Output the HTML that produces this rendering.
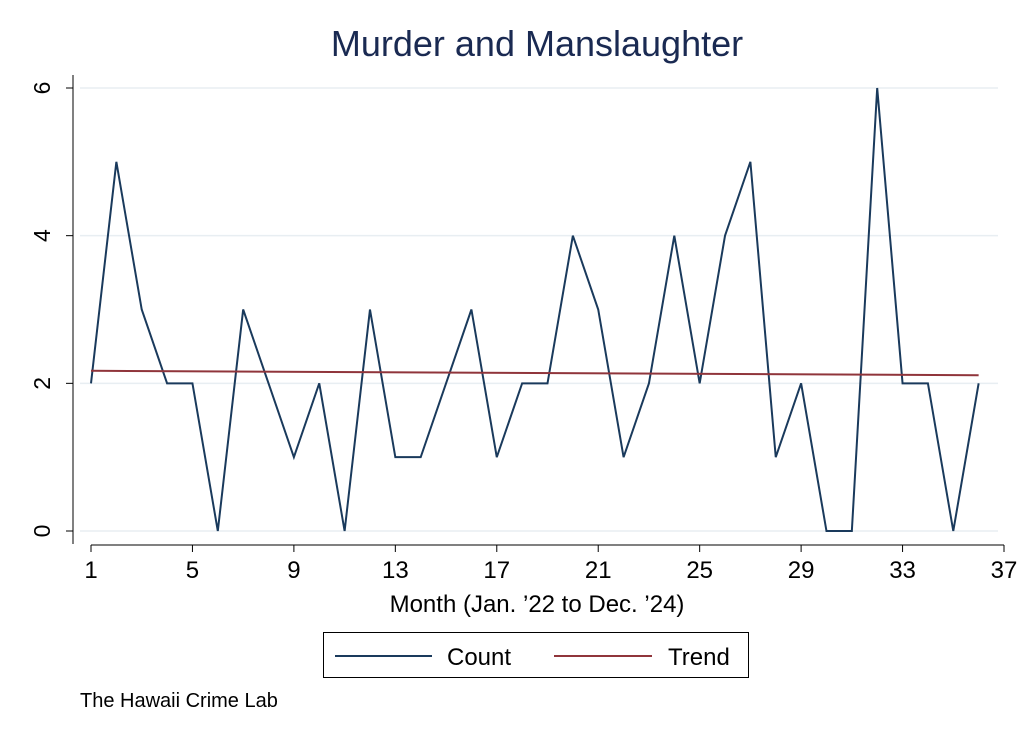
<!DOCTYPE html>
<html><head><meta charset="utf-8"><style>
html,body{margin:0;padding:0;background:#fff;}
svg{display:block;font-family:"Liberation Sans",sans-serif;}
</style></head><body>
<svg id="chart" width="1024" height="744" viewBox="0 0 1024 744">
<rect width="1024" height="744" fill="#fff"/>
<text x="537" y="56" text-anchor="middle" font-size="36" fill="#1a2a52">Murder and Manslaughter</text>
<g id="grid"></g><g id="axes"></g><g id="series"></g>
<text x="537" y="612" text-anchor="middle" font-size="24" fill="#000">Month (Jan. ’22 to Dec. ’24)</text>
<g>
<rect x="323.5" y="632.5" width="425" height="45" fill="#fff" stroke="#000" stroke-width="1"/>
<g><line x1="335" y1="656" x2="432" y2="656" stroke="#1a3a5c" stroke-width="2"/><text x="447" y="665" font-size="24">Count</text></g>
<g><line x1="554" y1="656" x2="652" y2="656" stroke="#90353b" stroke-width="2"/><text x="668" y="665" font-size="24">Trend</text></g>
</g>
<text x="80" y="707" font-size="20" fill="#000">The Hawaii Crime Lab</text>
</svg>
<script>
const months=[1,2,3,4,5,6,7,8,9,10,11,12,13,14,15,16,17,18,19,20,21,22,23,24,25,26,27,28,29,30,31,32,33,34,35,36];
const counts=[2,5,3,2,2,0,3,2,1,2,0,3,1,1,2,3,1,2,2,4,3,1,2,4,2,4,5,1,2,0,0,6,2,2,0,2];
const trendStart=2.17, trendEnd=2.11;
const xTicks=[1,5,9,13,17,21,25,29,33,37];
const yTicks=[0,2,4,6];
const NS="http://www.w3.org/2000/svg";
const X=v=>91+(v-1)*(1004-91)/36;
const Y=v=>531-v*(531-88)/6;
function mk(tag,attrs,parent){const e=document.createElementNS(NS,tag);for(const k in attrs)e.setAttribute(k,attrs[k]);parent.appendChild(e);return e;}
const grid=document.getElementById('grid'),axes=document.getElementById('axes'),series=document.getElementById('series');
yTicks.forEach(t=>{
 const g=mk('line',{x1:80,x2:998,y1:Y(t),y2:Y(t),stroke:'#e8eef2','stroke-width':1.5},grid);
 
 
 mk('line',{x1:66,x2:73,y1:Y(t),y2:Y(t),stroke:'#000','stroke-width':1},axes);
 const tx=mk('text',{x:0,y:0,'font-size':23,'text-anchor':'middle',transform:`translate(50,${Y(t)}) rotate(-90)`},axes);
 tx.textContent=t;
 
 
});
mk('line',{x1:73,x2:73,y1:Y(6)-13,y2:Y(0)+13,stroke:'#000','stroke-width':1},axes);
mk('line',{x1:X(1),x2:X(37),y1:545,y2:545,stroke:'#000','stroke-width':1},axes);
xTicks.forEach(t=>{
 mk('line',{x1:X(t),x2:X(t),y1:545,y2:552,stroke:'#000','stroke-width':1},axes);
 const tx=mk('text',{x:X(t),y:578,'font-size':24,'text-anchor':'middle'},axes);
 tx.textContent=t;
 
 
});
const p=mk('polyline',{points:months.map((m,i)=>X(m)+','+Y(counts[i])).join(' '),fill:'none',stroke:'#1a3a5c','stroke-width':2,'stroke-linejoin':'miter'},series);


const tr=mk('line',{x1:X(months[0]),y1:Y(trendStart),x2:X(months[months.length-1]),y2:Y(trendEnd),stroke:'#90353b','stroke-width':2},series);


</script>
</body></html>
